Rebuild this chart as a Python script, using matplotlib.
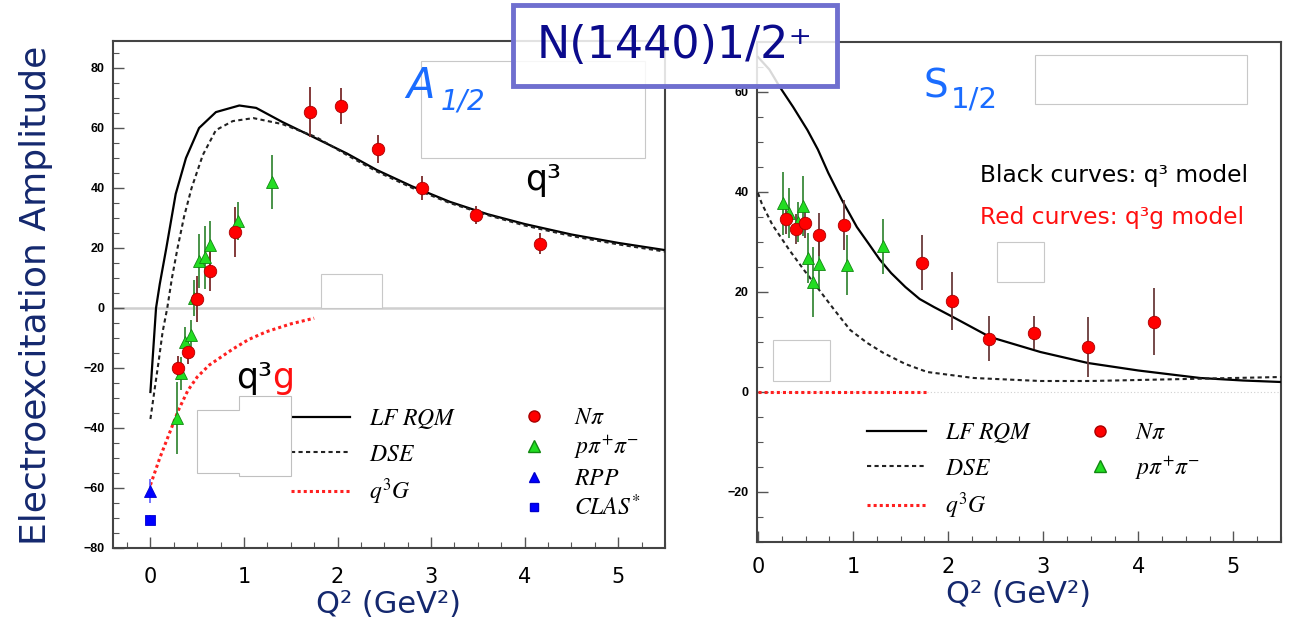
import matplotlib
matplotlib.use("Agg")
import matplotlib.pyplot as plt
from matplotlib.lines import Line2D
from matplotlib.patches import Rectangle, Polygon
from matplotlib.ticker import MultipleLocator

plt.rcParams['mathtext.fontset'] = 'stix'

# ---------------- A1/2 panel ----------------
a_npi_q2 = [0.30, 0.40, 0.50, 0.64, 0.90, 1.71, 2.04, 2.43, 2.90, 3.48, 4.16]
a_npi_val = [-20.0, -14.7, 3.0, 12.3, 25.3, 65.3, 67.3, 53.0, 40.0, 31.0, 21.5]
a_npi_err = [4.0, 4.0, 7.8, 6.5, 8.4, 8.3, 6.0, 4.7, 4.0, 3.0, 3.5]

a_2pi_q2 = [0.28, 0.33, 0.37, 0.43, 0.47, 0.52, 0.58, 0.64, 0.94, 1.30]
a_2pi_val = [-36.7, -21.7, -11.3, -9.0, 3.5, 15.7, 17.0, 21.0, 29.0, 42.0]
a_2pi_err = [12.0, 5.5, 5.0, 5.0, 6.0, 9.0, 10.5, 8.0, 6.4, 9.0]

a_rpp_q2, a_rpp_val, a_rpp_err = [0.0], [-61.0], [4.0]
a_clas_q2, a_clas_val, a_clas_err = [0.0], [-70.5], [1.5]

a_lf_q2 = [0, 0.03, 0.06, 0.10, 0.17, 0.27, 0.38, 0.52, 0.70, 0.95, 1.13, 1.41,
           1.74, 2.10, 2.42, 2.80, 3.20, 3.60, 4.00, 4.50, 5.00, 5.50]
a_lf_val = [-28, -14, 0, 8, 20, 38, 50, 60, 65.3, 67.5, 66.7, 62,
            57, 51.5, 46, 40.5, 35.4, 31.3, 28, 24.5, 21.7, 19.3]

a_dse_q2 = [0, 0.05, 0.09, 0.13, 0.18, 0.23, 0.29, 0.36, 0.44, 0.56, 0.70, 0.88,
            1.10, 1.41, 1.77, 2.10, 2.42, 2.80, 3.20, 3.60, 4.00, 4.50, 5.00, 5.50]
a_dse_val = [-37, -26, -17.3, -8, 0, 10, 20, 30.5, 40, 51, 59.3, 62.3,
             63.3, 61.3, 57, 51, 45.5, 40, 35, 31, 27.5, 24, 21.2, 18.8]

a_q3g_q2 = [0, 0.10, 0.20, 0.30, 0.40, 0.50, 0.63, 0.88, 1.05, 1.24, 1.50, 1.75]
a_q3g_val = [-59, -50, -42, -34, -27.5, -23, -19, -13.7, -10.5, -7.9, -5.3, -3.4]

# ---------------- S1/2 panel ----------------
s_npi_q2 = [0.29, 0.40, 0.49, 0.64, 0.90, 1.72, 2.04, 2.43, 2.90, 3.47, 4.16]
s_npi_val = [34.7, 32.6, 33.9, 31.5, 33.4, 25.9, 18.3, 10.7, 11.9, 9.1, 14.1]
s_npi_err = [3.0, 3.0, 3.0, 4.3, 5.0, 5.5, 5.8, 4.5, 3.3, 6.0, 6.7]

s_2pi_q2 = [0.26, 0.33, 0.42, 0.47, 0.53, 0.58, 0.64, 0.94, 1.31]
s_2pi_val = [37.8, 35.8, 34.0, 37.2, 26.8, 22.0, 25.6, 25.4, 29.2]
s_2pi_err = [6.3, 5.0, 4.0, 6.0, 5.0, 7.0, 5.0, 6.0, 5.5]

s_lf_q2 = [0, 0.12, 0.23, 0.37, 0.52, 0.63, 0.74, 0.88, 1.04, 1.17, 1.28, 1.40,
           1.55, 1.70, 1.85, 2.05, 2.44, 2.97, 3.47, 4.00, 4.65, 5.10, 5.50]
s_lf_val = [67, 64.5, 61, 57, 52.4, 48.5, 43.8, 38.5, 33, 29.5, 26.5, 23.8,
            21, 18.6, 17, 15, 11, 8, 5.8, 4.3, 2.8, 2.3, 2.0]

s_dse_q2 = [0, 0.04, 0.15, 0.33, 0.48, 0.62, 0.80, 0.97, 1.15, 1.32, 1.55, 1.78,
            2.27, 2.97, 3.50, 4.00, 4.50, 5.00, 5.50]
s_dse_val = [39.8, 37.7, 33.5, 28.4, 24.5, 21, 16.5, 12.4, 9.8, 7.8, 5.6, 4.0,
             2.8, 2.2, 2.2, 2.4, 2.6, 2.8, 3.0]

s_q3g_q2 = [0, 0.5, 1.0, 1.5, 1.8]
s_q3g_val = [0, 0, 0, 0, 0]

W, H = 1291, 624
NAVY = '#14286e'
RED_PT = '#ff0000'
GREEN_PT = '#22dd22'


def fx(x):
    return x / W


def fy(y):
    return 1 - y / H


fig = plt.figure(figsize=(W / 100, H / 100), dpi=100)
axL = fig.add_axes([fx(113), fy(548), 552 / W, 507 / H])
axR = fig.add_axes([fx(757), fy(542), 524 / W, 500 / H])


def style_axis(ax, xlim, ylim, xpad):
    ax.set_xlim(*xlim)
    ax.set_ylim(*ylim)
    ax.xaxis.set_major_locator(MultipleLocator(1))
    ax.xaxis.set_minor_locator(MultipleLocator(0.25))
    ax.yaxis.set_major_locator(MultipleLocator(20))
    ax.yaxis.set_minor_locator(MultipleLocator(5))
    ax.tick_params(which='both', direction='in', top=False, right=False, color='#555555')
    ax.tick_params(which='major', length=8, width=1)
    ax.tick_params(which='minor', length=4, width=0.8)
    ax.tick_params(axis='x', labelsize=15, pad=xpad)
    ax.tick_params(axis='y', labelsize=9, pad=6)
    for lab in ax.get_yticklabels():
        lab.set_fontweight('bold')
        lab.set_family('Liberation Sans')
    for sp in ax.spines.values():
        sp.set_color('#444444')
        sp.set_linewidth(1.5)
    ax.set_xlabel('Q² (GeV²)', fontsize=22, color=NAVY, labelpad=2)


def data_points(ax, q2, val, err, color, edge, ecolor, marker, ms):
    ax.errorbar(q2, val, yerr=err, fmt=marker, ms=ms, mfc=color, mec=edge, mew=0.6,
                ecolor=ecolor, elinewidth=1.3, capsize=0, zorder=4)


def add_legend(ax, handles, labels, x, y, hlen, pad, spacing):
    return ax.legend(handles, labels, loc='upper left', frameon=False,
                     bbox_to_anchor=(fx(x), fy(y)), bbox_transform=fig.transFigure,
                     fontsize=17, handlelength=hlen, handletextpad=pad,
                     labelspacing=spacing, borderpad=0, borderaxespad=0)


line_handles = [
    Line2D([], [], color='black', lw=1.6),
    Line2D([], [], color='#222222', lw=1.5, ls=(0, (2, 1.6))),
    Line2D([], [], color='#ff2020', lw=2.2, ls=(0, (1, 1))),
]
line_labels = [r'$LF\ RQM$', r'$DSE$', r'$q^3G$']
mark_handles = [
    Line2D([], [], ls='none', marker='o', ms=8, mfc=RED_PT, mec='#aa0000'),
    Line2D([], [], ls='none', marker='^', ms=8, mfc=GREEN_PT, mec='#118811'),
    Line2D([], [], ls='none', marker='^', ms=7, mfc='#0000ff', mec='#0000cc'),
    Line2D([], [], ls='none', marker='s', ms=6, mfc='#0000ff', mec='#0000cc'),
]
mark_labels = [r'$N\pi$', r'$p\pi^{+}\pi^{-}$', r'$RPP$', r'$CLAS^{*}$']

# ---- left panel ----
style_axis(axL, (-0.4, 5.5), (-80, 89), 14)
axL.axhline(0, color='#cfcfcf', lw=1.8, zorder=1)
axL.plot(a_lf_q2, a_lf_val, color='black', lw=1.6, zorder=3)
axL.plot(a_dse_q2, a_dse_val, color='#222222', lw=1.5, ls=(0, (2, 1.6)), zorder=3)
axL.plot(a_q3g_q2, a_q3g_val, color='#ff2020', lw=2.2, ls=(0, (1, 1)), zorder=3)
data_points(axL, a_2pi_q2, a_2pi_val, a_2pi_err, GREEN_PT, '#118811', '#3a8a3a', '^', 9)
data_points(axL, a_npi_q2, a_npi_val, a_npi_err, RED_PT, '#aa0000', '#7a2a2a', 'o', 9)
data_points(axL, a_rpp_q2, a_rpp_val, a_rpp_err, '#0000ff', '#0000cc', '#6a6aff', '^', 8)
data_points(axL, a_clas_q2, a_clas_val, a_clas_err, '#0000ff', '#0000cc', '#6a6aff', 's', 7)

axL.add_artist(add_legend(axL, line_handles, line_labels, 291, 406, 2.5, 0.8, 0.45))
add_legend(axL, mark_handles, mark_labels, 522, 405, 1.0, 1.2, 0.2)

# ---- right panel ----
style_axis(axR, (-0.01, 5.5), (-30, 70), 11)
axR.axhline(0, color='#d0d0d0', lw=0.8, ls=(0, (1, 2)), zorder=1)
axR.plot(s_lf_q2, s_lf_val, color='black', lw=1.6, zorder=3)
axR.plot(s_dse_q2, s_dse_val, color='#222222', lw=1.5, ls=(0, (2, 1.6)), zorder=3)
axR.plot(s_q3g_q2, s_q3g_val, color='#ff2020', lw=2.2, ls=(0, (1, 1)), zorder=3)
data_points(axR, s_2pi_q2, s_2pi_val, s_2pi_err, GREEN_PT, '#118811', '#3a8a3a', '^', 9)
data_points(axR, s_npi_q2, s_npi_val, s_npi_err, RED_PT, '#aa0000', '#6a3a3a', 'o', 9)

axR.add_artist(add_legend(axR, line_handles, line_labels, 867, 420, 2.5, 0.8, 0.45))
add_legend(axR, mark_handles[:2], mark_labels[:2], 1088, 420, 1.0, 1.0, 0.45)

# ---- slide overlay: white boxes left behind ----
boxes = [(421, 61, 645, 158), (321, 274, 382, 308),
         (1035, 55, 1247, 104), (997, 242, 1044, 282), (773, 340, 830, 381)]
for x0, y0, x1, y1 in boxes:
    fig.add_artist(Rectangle((fx(x0), fy(y1)), (x1 - x0) / W, (y1 - y0) / H,
                             transform=fig.transFigure, fc='white', ec='#c8c8c8',
                             lw=0.8, zorder=5))
step = [(197, 410), (239, 410), (239, 396), (291, 396), (291, 476),
        (239, 476), (239, 473), (197, 473)]
fig.add_artist(Polygon([(fx(x), fy(y)) for x, y in step], closed=True,
                       transform=fig.transFigure, fc='white', ec='#c0c0c0',
                       lw=0.8, zorder=5))

# ---- annotations ----
fig.text(fx(406), fy(98), 'A', fontsize=30, style='italic', color='#1a6cff',
         va='baseline', zorder=6)
fig.text(fx(441), fy(109), '1/2', fontsize=20, style='italic', color='#1a6cff',
         va='baseline', zorder=6)
fig.text(fx(923), fy(98), 'S', fontsize=28, color='#1a6cff', va='baseline', zorder=6)
fig.text(fx(951), fy(107), '1/2', fontsize=21, color='#1a6cff', va='baseline', zorder=6)

fig.text(fx(525), fy(190), 'q³', fontsize=25, color='black', va='baseline', zorder=6)
fig.text(fx(236), fy(388), 'q³', fontsize=25, color='black', va='baseline', zorder=6)
fig.text(fx(272), fy(388), 'g', fontsize=25, color='#ff1010', va='baseline', zorder=6)

fig.text(fx(980), fy(182), 'Black curves: q³ model', fontsize=16.8, color='black',
         va='baseline', zorder=6)
fig.text(fx(980), fy(224), 'Red curves: q³g model', fontsize=16.8, color='#ff1010',
         va='baseline', zorder=6)

fig.text(fx(36), fy(295), 'Electroexcitation Amplitude', rotation=90, fontsize=26,
         color=NAVY, ha='center', va='center')

# ---- title box ----
fig.add_artist(Rectangle((fx(513), fy(86)), 324 / W, 81 / H, transform=fig.transFigure,
                         fc=(1, 1, 1, 0.85), ec='#6f6fcf', lw=3.5, zorder=10))
fig.text(fx(675), fy(46), 'N(1440)1/2⁺', fontsize=32, color='#0b0b8c',
         ha='center', va='center', zorder=11)

fig.savefig('out.png', dpi=100)
